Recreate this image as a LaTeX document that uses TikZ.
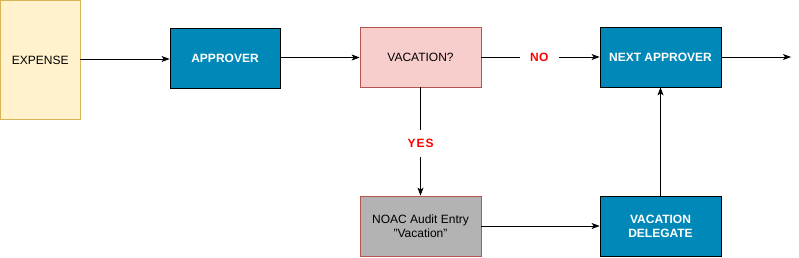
\documentclass[tikz,border=0pt]{standalone}
\usepackage{fontspec}
\setmainfont{Liberation Sans}
\usetikzlibrary{arrows.meta}
\definecolor{yfill}{HTML}{FFF2CC}
\definecolor{ydraw}{HTML}{D6B656}
\definecolor{bfill}{HTML}{0088B8}
\definecolor{rfill}{HTML}{F8CECC}
\definecolor{rdraw}{HTML}{B85450}
\definecolor{gfill}{HTML}{B3B3B3}
\definecolor{lblred}{HTML}{FF0000}
\tikzset{
  box/.style={rectangle, draw, line width=0.8pt, inner sep=0pt, font=\fontsize{12}{14}\selectfont, align=center},
  bluebox/.style={box, fill=bfill, draw=black, text=white, font=\fontsize{12}{14}\selectfont\bfseries, minimum width=121pt, minimum height=60pt},
  conn/.style={draw=black, line width=0.8pt, -{Stealth[length=8pt,width=6pt,inset=2pt]}},
  lbl/.style={fill=white, text=lblred, font=\fontsize{12}{14}\selectfont\bfseries, inner sep=2pt}
}
\begin{document}
\begin{tikzpicture}[x=1pt,y=-1pt]
\useasboundingbox (0,0) rectangle (799,257);
\node[box, fill=yfill, draw=ydraw, minimum width=79.5pt, minimum height=119pt] (exp) at (40.25,60) {EXPENSE};
\node[bluebox, minimum width=110pt] (appr) at (225,58) {APPROVER};
\node[box, fill=rfill, draw=rdraw, minimum width=121pt, minimum height=60pt] (vac) at (420.5,57) {VACATION?};
\node[bluebox] (next) at (660.5,57) {NEXT APPROVER};
\node[box, fill=gfill, draw=rdraw, minimum width=121pt, minimum height=60pt] (noac) at (420.5,226) {NOAC Audit Entry\\"Vacation"};
\node[bluebox] (deleg) at (660.5,226) {VACATION\\DELEGATE};
\coordinate (out) at (791,57);
\draw[conn] (exp.east |- 0,59) -- (appr.west |- 0,59);
\draw[conn] (appr.east |- 0,57.5) -- (vac.west |- 0,57.5);
\draw[conn] (vac.east) -- node[lbl, inner xsep=10pt, pos=0.49] {N\kern0.5pt O} (next.west);
\draw[conn] (next.east) -- (out);
\draw[conn] (vac.south) -- node[lbl, inner ysep=9pt, pos=0.5, yshift=-2pt] {Y\kern1pt E\kern1pt S} (noac.north);
\draw[conn] (noac.east) -- (deleg.west);
\draw[conn] (deleg.north) -- (next.south);
\end{tikzpicture}
\end{document}
